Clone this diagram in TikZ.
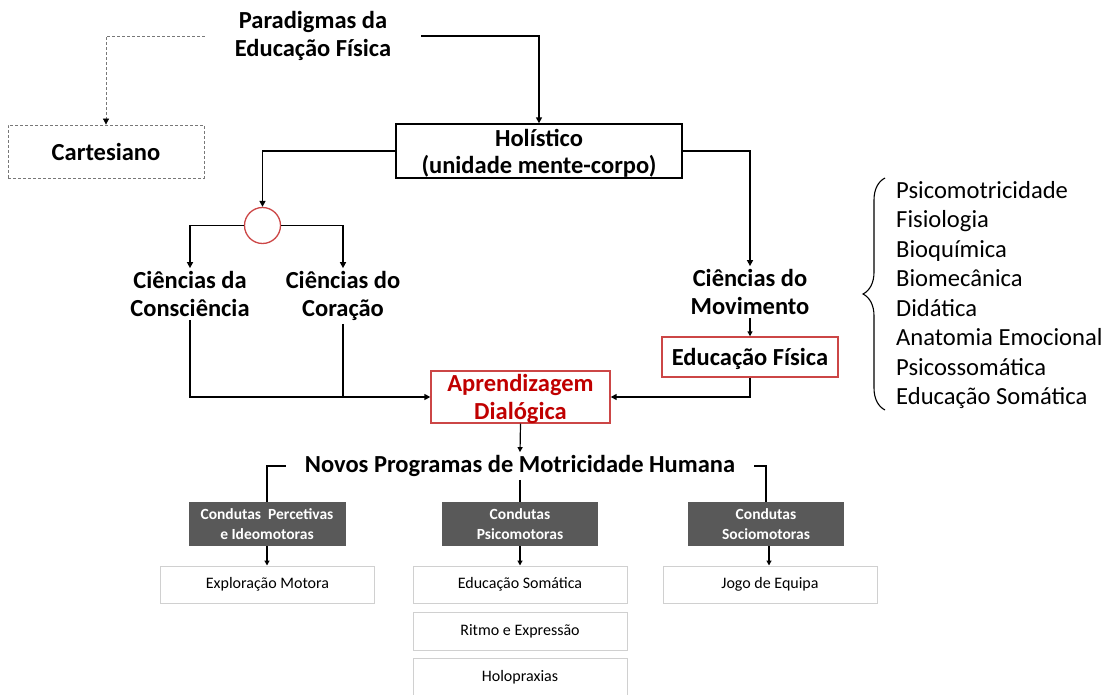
\documentclass[tikz,border=0pt]{standalone}
\usepackage{fontspec}
\setmainfont{Carlito}
\usetikzlibrary{arrows.meta,decorations.pathreplacing}
\definecolor{boxred}{RGB}{204,70,70}
\definecolor{txtred}{RGB}{192,0,0}
\definecolor{darkfill}{RGB}{89,89,89}
\definecolor{lightedge}{RGB}{208,208,208}
\definecolor{dashgray}{RGB}{120,120,120}
\tikzset{
  conn/.style={line width=1.6pt, -{Triangle[length=6pt,width=6pt]}},
  plainline/.style={line width=1.6pt},
  smallconn/.style={line width=1.2pt, -{Triangle[length=5pt,width=5pt]}},
  bigbold/.style={font=\fontsize{24.5}{28}\selectfont\bfseries, align=center, inner sep=0pt},
  blackbox/.style={draw, line width=1.4pt, minimum width=286pt, minimum height=54pt, font=\fontsize{24.5}{27}\selectfont\bfseries, align=center, inner sep=0pt, text depth=0pt},
  redbox/.style={draw=boxred, line width=1.4pt, font=\fontsize{24.5}{28}\selectfont\bfseries, align=center, inner sep=0pt, text depth=0pt},
  darkbox/.style={fill=darkfill, text=white, minimum width=157pt, minimum height=44pt, font=\fontsize{15.5}{20}\selectfont\bfseries, align=center, inner sep=0pt},
  whitebox/.style={draw=lightedge, line width=1pt, minimum width=214pt, minimum height=37pt, font=\fontsize{16}{18}\selectfont, inner sep=0pt},
}
\begin{document}
\begin{tikzpicture}[x=1pt,y=-1pt]
\useasboundingbox (0,0) rectangle (1107,695);
\clip (0,0) rectangle (1107,695);

% top level
\node[bigbold, inner xsep=30pt] (par) at (313,36) {Paradigmas da\\Educação Física};
\node[draw=dashgray, densely dashed, line width=0.8pt, minimum width=196pt, minimum height=53pt,
      font=\fontsize{24.5}{28}\selectfont\bfseries, inner sep=0pt] (cart) at (106,151.5) {Cartesiano};
\node[blackbox] (hol) at (539,151) {Holístico\\(unidade mente-corpo)};

\draw[line width=0.8pt, dashgray, densely dashed] (par.west) -| ([yshift=6pt]cart.north);
\draw[-{Triangle[length=6pt,width=6pt]}, line width=0.8pt, black] ([yshift=6pt]cart.north) -- (cart.north);
\draw[conn] (par.east) -| (hol.north);

% sciences
\node[draw=boxred, line width=1.3pt, circle, minimum size=36pt, inner sep=0pt] (circ) at (262.5,225.5) {};
\node[bigbold, inner ysep=3pt] (cc) at (190,294) {Ciências da\\Consciência};
\node[bigbold, inner ysep=3pt] (co) at (343,296) {Ciências do\\Coração};
\node[bigbold, inner ysep=3pt] (cm) at (750,292) {Ciências do\\Movimento};

\draw[conn] (hol.west) -| (circ.north);
\draw[conn] (circ.west) -| (cc.north);
\draw[conn] (circ.east) -| (co.north);
\draw[conn] (hol.east) -| (cm.north);

\node[redbox, minimum width=176pt, minimum height=40pt] (ef) at (750,357) {Educação Física};
\node[redbox, minimum width=179pt, minimum height=52pt, text=txtred] (ad) at (520.5,397) {Aprendizagem\\Dialógica};

\draw[smallconn] (cm.south) -- (ef.north);
\draw[conn] (cc.south) |- (ad.west);
\draw[plainline] (co.south) -- (co.south |- ad.west);
\draw[conn] (ef.south) |- (ad.east);

% list of movement sciences
\draw[line width=1.1pt, decorate, decoration={brace, amplitude=22pt}] (885,410) -- (885,178);
\node[anchor=west, align=left, inner sep=0pt, font=\fontsize{24.6}{29.5}\selectfont] (lst) at (896,295)
  {Psicomotricidade\\Fisiologia\\Bioquímica\\Biomecânica\\Didática\\Anatomia Emocional\\Psicossomática\\Educação Somática};

% programmes
\node[bigbold, inner xsep=19pt, inner ysep=3pt] (nov) at (520,466) {Novos Programas de Motricidade Humana};
\draw[smallconn] (ad.south) -- (nov.north);

\node[darkbox] (d1) at (267,524) {Condutas\ \ Percetivas\\e Ideomotoras};
\node[darkbox, minimum width=156pt] (d2) at (520,524) {Condutas\\Psicomotoras};
\node[darkbox, minimum width=156pt] (d3) at (766,524) {Condutas\\Sociomotoras};

\draw[plainline] (nov.west) -| (d1.north);
\draw[plainline] (nov.east) -| (d3.north);
\draw[plainline] (nov.south) -- (d2.north);

\node[whitebox] (w1) at (267.5,584.5) {Exploração Motora};
\node[whitebox] (w2) at (520,584.5) {Educação Somática};
\node[whitebox, minimum height=38pt] (w3) at (520,631) {Ritmo e Expressão};
\node[whitebox, minimum height=44pt] (w4) at (520,680) {};
\node[font=\fontsize{16}{18}\selectfont, inner sep=0pt] (w4t) at (520,677) {Holopraxias};
\node[whitebox] (w5) at (770,584.5) {Jogo de Equipa};

\draw[smallconn] (d1.south) -- (d1.south |- w1.north);
\draw[smallconn] (d2.south) -- (w2.north);
\draw[smallconn] ([xshift=3pt]d3.south) -- ([xshift=3pt]d3.south |- w5.north);
\end{tikzpicture}
\end{document}
